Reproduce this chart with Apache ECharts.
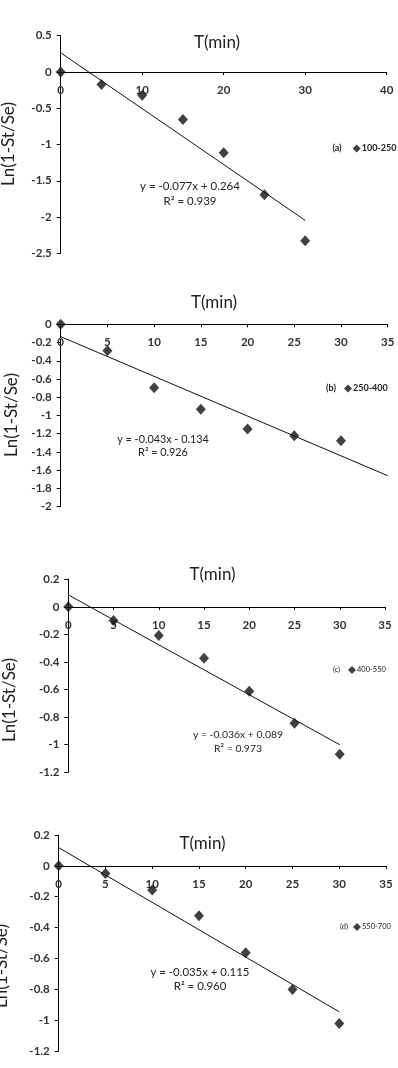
<!DOCTYPE html>
<html>
<head>
<meta charset="utf-8">
<script src="https://cdn.jsdelivr.net/npm/echarts@6/dist/echarts.min.js"></script>
<style>
html,body{margin:0;padding:0;background:#ffffff;}
#chart{width:398px;height:1068px;}
</style>
</head>
<body>
<div id="chart"></div>
<script>
// ---------- DATA ----------
const times = [0, 5, 10, 15, 20, 25, 30];
const seriesNames = ['100-250', '250-400', '400-550', '550-700'];
const panelTags = ['(a)', '(b)', '(c)', '(d)'];

const valuesA = [0, -0.174, -0.321, -0.656, -1.115, -1.693, -2.326];
const valuesB = [0, -0.289, -0.695, -0.932, -1.148, -1.221, -1.276];
const valuesC = [0, -0.099, -0.208, -0.372, -0.612, -0.844, -1.069];
const valuesD = [0, -0.050, -0.156, -0.324, -0.564, -0.801, -1.022];

// trend line end points
const trendA = [[0, 0.264], [30, -2.046]];
const trendB = [[0, -0.135], [35, -1.660]];
const trendC = [[0, 0.087], [30, -1.000]];
const trendD = [[0, 0.118], [30, -0.946]];

const equations = ['y = -0.077x + 0.264', 'y = -0.043x - 0.134', 'y = -0.036x + 0.089', 'y = -0.035x + 0.115'];
const r2Labels = ['R\u00B2 = 0.939', 'R\u00B2 = 0.926', 'R\u00B2 = 0.973', 'R\u00B2 = 0.960'];

const xAxisMax = [40, 35, 35, 35];
const xAxisInterval = [10, 5, 5, 5];
const yAxisMin = [-2.5, -2, -1.2, -1.2];
const yAxisMax = [0.5, 0, 0.2, 0.2];
const yAxisInterval = [0.5, 0.2, 0.2, 0.2];

const xTitle = 'T(min)';
const yTitle = 'Ln(1-St/Se)';

// ---------- LAYOUT / STYLE ----------
const FONT = 'Lato, "Open Sans", sans-serif';
const panels = [
  {grid:{left:60.7, top:35.7, width:326, height:217.6},
   title:[217,43], ylab:[9,144], eq:[190,186,201,11.5], tag:[337,148], leg:[352.7,144], legFont:9, legBold:true},
  {grid:{left:60.7, top:324.3, width:327, height:182.4},
   title:[214,302.7], ylab:[12,415], eq:[163,440,453,10.8], tag:[331,388], leg:[344,384], legFont:9, legBold:true},
  {grid:{left:68.3, top:579.3, width:316.7, height:193},
   title:[212.5,575], ylab:[10,700], eq:[238,735,749,10.4], tag:[336.5,670], leg:[348,666], legFont:7.5, legBold:false},
  {grid:{left:58.7, top:835, width:327.3, height:216},
   title:[202.5,843.3], ylab:[2,966], eq:[200,972,986,11.4], tag:[344,927], leg:[353,923], legFont:7.5, legBold:false}
];

const allValues = [valuesA, valuesB, valuesC, valuesD];
const allTrends = [trendA, trendB, trendC, trendD];

const grids = [], xAxes = [], yAxes = [], series = [], legends = [], graphics = [];

panels.forEach((p, i) => {
  grids.push(Object.assign({containLabel:false}, p.grid));
  // place the horizontal axis on y = 0 (pixel offset up from the grid bottom)
  const zeroOffset = -p.grid.height * (0 - yAxisMin[i]) / (yAxisMax[i] - yAxisMin[i]);
  xAxes.push({
    type:'value', gridIndex:i, min:0, max:xAxisMax[i], interval:xAxisInterval[i],
    position:'bottom', offset:zeroOffset,
    axisLine:{show:true, onZero:false, lineStyle:{color:'#000', width:1}},
    axisTick:{show:true, inside:false, length:3, lineStyle:{color:'#000'}},
    axisLabel:{show:true, margin:12, fontSize:11.5, fontFamily:FONT, fontWeight:'bold', color:'#333'},
    splitLine:{show:false}
  });
  yAxes.push({
    type:'value', gridIndex:i, min:yAxisMin[i], max:yAxisMax[i], interval:yAxisInterval[i],
    axisLine:{show:true, onZero:false, lineStyle:{color:'#000', width:1}},
    axisTick:{show:true, inside:false, length:4, lineStyle:{color:'#000'}},
    axisLabel:{show:true, margin:9, fontSize:11.5, fontFamily:FONT, fontWeight:'bold', color:'#333'},
    splitLine:{show:false}
  });
  series.push({
    name:'fit-' + seriesNames[i], type:'line', xAxisIndex:i, yAxisIndex:i,
    data:allTrends[i], symbol:'none', silent:true, z:2,
    lineStyle:{color:'#111', width:1}
  });
  series.push({
    name:seriesNames[i], type:'scatter', xAxisIndex:i, yAxisIndex:i,
    data:times.map((t, k) => [t, allValues[i][k]]),
    symbol:'diamond', symbolSize:[10, 11], z:3,
    itemStyle:{color:'#111'}
  });
  legends.push({
    data:[{name:seriesNames[i], icon:'diamond'}], left:p.leg[0], top:p.leg[1],
    padding:0, itemWidth:8, itemHeight:8, itemGap:0, selectedMode:false,
    textStyle:{fontSize:p.legFont, fontFamily:FONT, fontWeight:p.legBold ? 'bold' : 'normal',
               color:'#222', lineHeight:8, padding:[0,0,0,-4]}
  });
  graphics.push({type:'text', x:p.title[0], y:p.title[1],
    style:{text:xTitle, fontSize:17, fontFamily:FONT, fill:'#222', align:'center', verticalAlign:'middle'}});
  graphics.push({type:'text', x:p.ylab[0], y:p.ylab[1], rotation:Math.PI/2,
    style:{text:yTitle, fontSize:17, fontFamily:FONT, fill:'#222', align:'center', verticalAlign:'middle'}});
  graphics.push({type:'text', x:p.eq[0], y:p.eq[1],
    style:{text:equations[i], fontSize:p.eq[3], fontFamily:FONT, fill:'#222', align:'center', verticalAlign:'middle'}});
  graphics.push({type:'text', x:p.eq[0], y:p.eq[2],
    style:{text:r2Labels[i], fontSize:p.eq[3], fontFamily:FONT, fill:'#222', align:'center', verticalAlign:'middle'}});
  graphics.push({type:'text', x:p.tag[0], y:p.tag[1],
    style:{text:panelTags[i], fontSize:p.legFont, fontFamily:FONT, fontWeight:p.legBold ? 'bold' : 'normal',
           fill:'#222', align:'center', verticalAlign:'middle'}});
});

const chart = echarts.init(document.getElementById('chart'), null, {renderer:'canvas'});
chart.setOption({
  animation:false,
  backgroundColor:'#ffffff',
  grid:grids, xAxis:xAxes, yAxis:yAxes, series:series, legend:legends, graphic:graphics
});
</script>
</body>
</html>
